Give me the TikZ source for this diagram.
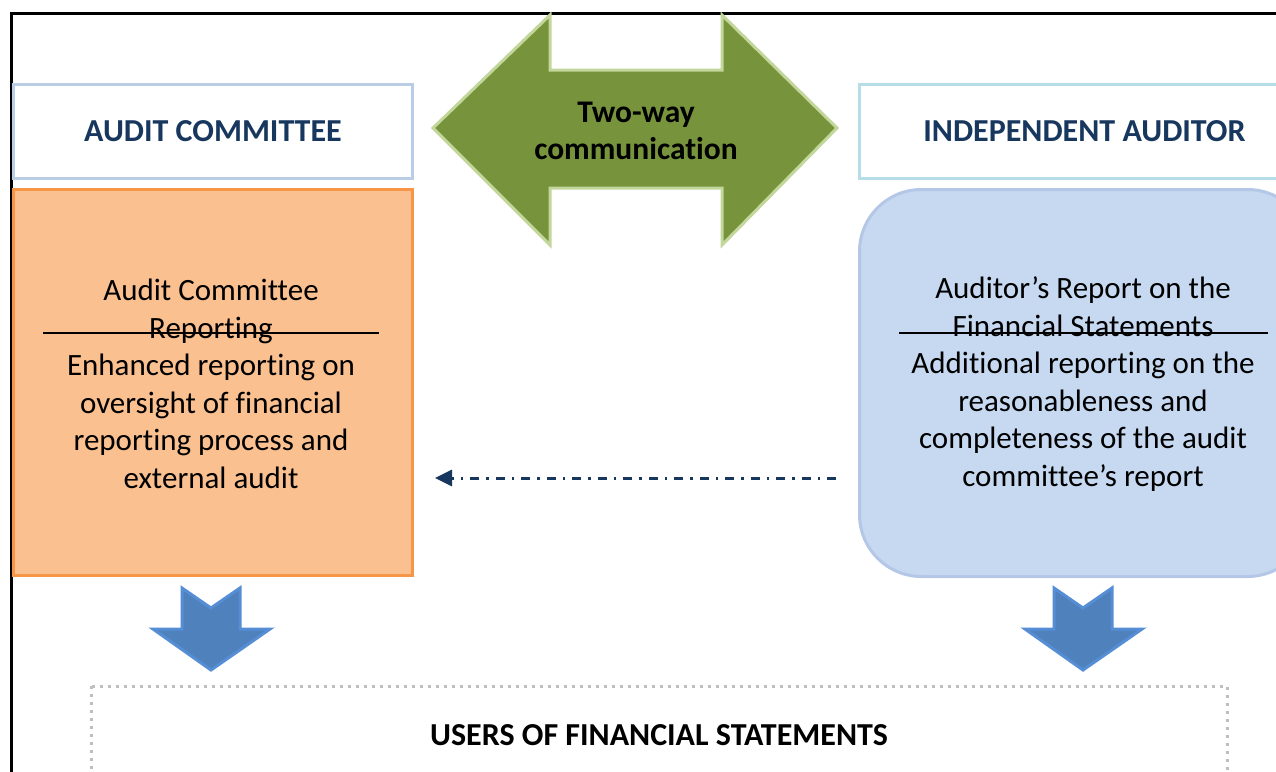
\documentclass[tikz,border=0pt]{standalone}
\usepackage{fontspec}
\setmainfont[Ligatures=NoCommon]{Carlito}
\usetikzlibrary{arrows.meta}
\definecolor{navy}{HTML}{17375E}
\definecolor{hdrL}{HTML}{B9CDE5}
\definecolor{hdrR}{HTML}{B7DEE8}
\definecolor{orgfill}{HTML}{FAC090}
\definecolor{orgline}{HTML}{F79646}
\definecolor{bluefill}{HTML}{C6D9F1}
\definecolor{blueline}{HTML}{B4C7E7}
\definecolor{grnfill}{HTML}{77933C}
\definecolor{grnline}{HTML}{C3D69B}
\definecolor{arrfill}{HTML}{4F81BD}
\definecolor{arrline}{HTML}{558ED5}
\definecolor{dotgray}{HTML}{BFBFBF}
\tikzset{
  hdrbox/.style={draw, line width=3pt, fill=white, anchor=north west, minimum height=94pt,
    font=\fontsize{32}{38}\selectfont\bfseries, text=navy, inner sep=0pt},
  bodytxt/.style={font=\fontsize{31}{37.5}\selectfont, align=center, text=black},
  strike/.style={line width=2.5pt, black},
  downarrow/.style={fill=arrfill, draw=arrline, line width=3pt, line join=miter},
}
\begin{document}
\begin{tikzpicture}[x=1pt,y=-1pt]
\clip (0,0) rectangle (1276,771);
\fill[white] (0,0) rectangle (1276,771);
% outer frame
\draw[line width=3pt] (11,800) -- (11,13) -- (1300,13);

% headers
\node[hdrbox, draw=hdrL, minimum width=399pt] (ac) at (12,83) {AUDIT COMMITTEE};
\node[hdrbox, draw=hdrR, minimum width=450pt] (ia) at (858,83) {INDEPENDENT AUDITOR};

% orange box
\node[draw=orgline, fill=orgfill, line width=3pt, anchor=north west, minimum width=399pt,
      minimum height=386pt, inner sep=0pt] (acr) at (12,188) {};
\node[bodytxt] (acrt) at (211,384) {Audit Committee\\Reporting\\Enhanced reporting on\\oversight of financial\\reporting process and\\external audit};
\draw[strike] (43,333) -- (379,333);

% blue rounded box
\node[draw=blueline, fill=bluefill, line width=3pt, rounded corners=62pt, anchor=north west,
      minimum width=450pt, minimum height=387pt, inner sep=0pt] (iar) at (858,188) {};
\node[bodytxt] (iart) at (1083,384) {Auditor’s Report on the\\Financial Statements\\Additional reporting on the\\reasonableness and\\completeness of the audit\\committee’s report};
\draw[strike] (899,333) -- (1268,333);

% green double arrow
\draw[fill=grnfill, draw=grnline, line width=3pt, line join=miter]
  (433,128) -- (550,15) -- (550,70) -- (722,70) -- (722,15) -- (837,128)
  -- (722,245) -- (722,188) -- (550,188) -- (550,245) -- cycle;
\node[font=\fontsize{31.5}{37.5}\selectfont\bfseries, align=center] (two) at (636,131) {Two-way\\communication};

% dash-dot arrow
\coordinate (dstart) at (836,478);
\coordinate (dend) at (435,478);
\draw[navy, line width=3pt, dash pattern=on 9pt off 7pt on 2.5pt off 7pt,
      -{Triangle[length=17pt,width=16pt]}] (dstart) -- (dend);

% down arrows
\draw[downarrow] (182,588) -- (211,608) -- (240,588) -- (240,629) -- (270,629)
  -- (211,670) -- (153,629) -- (182,629) -- cycle;
\draw[downarrow] (1054,588) -- (1083,608) -- (1112,588) -- (1112,629) -- (1142,629)
  -- (1083,670) -- (1025,629) -- (1054,629) -- cycle;

% users box
\draw[dotgray, line width=3pt, dash pattern=on 3pt off 5pt] (91,686) rectangle (1227,820);
\node[font=\fontsize{32}{38}\selectfont\bfseries] (users) at (659,735) {USERS OF FINANCIAL STATEMENTS};
\end{tikzpicture}
\end{document}
